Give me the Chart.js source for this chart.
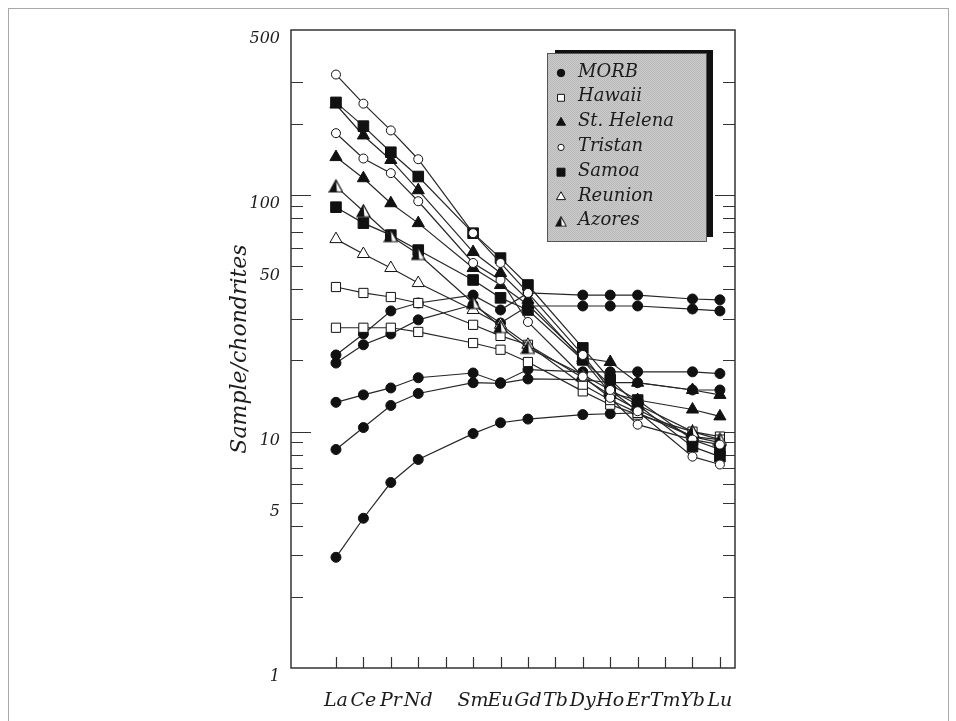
<!DOCTYPE html>
<html>
<head>
<meta charset="utf-8">
<script src="https://cdn.jsdelivr.net/npm/chart.js@4.4.1/dist/chart.umd.min.js"></script>
<style>
  html, body { margin: 0; padding: 0; background: #fff; }
  #wrap { position: relative; width: 956px; height: 721px; overflow: hidden; }
  #frame { position: absolute; left: 8px; top: 8px; width: 941px; height: 730px; border: 1px solid #a8a8a8; box-sizing: border-box; }
  canvas { position: absolute; left: 0; top: 0; }
</style>
</head>
<body>
<div id="wrap"><div id="frame"></div><canvas id="chart" width="956" height="721"></canvas></div>
<script>
// rare earth elements, Pm has no label and no data
const elements = ['La', 'Ce', 'Pr', 'Nd', 'Pm', 'Sm', 'Eu', 'Gd', 'Tb', 'Dy', 'Ho', 'Er', 'Tm', 'Yb', 'Lu'];
const xLabels = ['La', 'Ce', 'Pr', 'Nd', '', 'Sm', 'Eu', 'Gd', 'Tb', 'Dy', 'Ho', 'Er', 'Tm', 'Yb', 'Lu'];
const yTickLabels = [1, 5, 10, 50, 100, 500];
const yMinorTicks = [2, 3, 4, 5, 6, 7, 8, 9, 20, 30, 40, 50, 60, 70, 80, 90, 200, 300];
const yMajorTicks = [10, 100];

//            La    Ce    Pr    Nd   Pm    Sm    Eu    Gd   Tb    Dy    Ho    Er   Tm    Yb    Lu
const morb1 = [2.94, 4.3, 6.09, 7.62, null, 9.81, 10.9, 11.3, null, 11.8, 11.9, 12.0, null, null, null];
const morb2 = [8.4, 10.4, 12.9, 14.5, null, 16.1, 16.0, 16.7, null, 16.6, 16.1, 16.1, null, 15.0, 15.0];
const morb3 = [13.3, 14.3, 15.3, 16.9, null, 17.7, 16.1, 18.3, null, 17.9, 17.9, 17.9, null, 17.9, 17.6];
const morb4 = [21.1, 25.9, 32.4, 35.0, null, 37.8, 32.7, 38.6, null, 37.8, 37.8, 37.8, null, 36.4, 36.1];
const morb5 = [19.5, 23.3, 25.9, 29.7, null, 34.4, 28.8, 34.0, null, 34.0, 34.0, 34.0, null, 33.0, 32.4];
const hawaii1 = [40.9, 38.6, 37.1, 35.0, null, 28.3, 25.4, 23.3, null, 15.8, 13.6, 12.0, null, 9.53, 9.25];
const hawaii2 = [27.5, 27.5, 27.5, 26.4, null, 23.7, 22.2, 19.7, null, 14.8, 13.0, 11.8, null, 10.0, 9.53];
const stHelena1 = [242, 179, 141, 105, null, 57.5, 46.9, 36.1, null, 20.1, 15.8, 13.6, null, 12.4, 11.6];
const stHelena2 = [145, 118, 92.5, 76.2, null, 49.2, 41.7, 34.4, null, 20.5, 19.7, 16.1, null, 15.0, 14.3];
const tristan1 = [324, 244, 188, 142, null, 69.1, 51.7, 38.6, null, 21.1, 15.0, 12.2, null, 7.84, 7.26];
const tristan2 = [183, 143, 124, 94.3, null, 51.7, 43.8, 29.1, null, 17.1, 13.9, 10.7, null, 9.25, 8.81];
const samoa1 = [247, 196, 152, 120, null, 69.1, 54.2, 41.7, null, 22.6, 16.6, 13.0, null, 8.64, 7.84];
const samoa2 = [89.0, 76.2, 67.8, 58.6, null, 43.8, 36.8, 32.7, null, 20.1, 14.6, 13.6, null, 9.25, 8.4];
const reunion = [65.2, 56.4, 49.2, 42.5, null, 32.7, 28.3, 23.3, null, 16.9, 14.3, 12.4, null, 9.53, 8.98];
const azores = [109, 85.6, 67.1, 56.4, null, 35.0, 27.7, 22.6, null, 17.4, 15.0, 13.0, null, 10.0, 9.25];

const FONT = '"DejaVu Serif", serif';
const INK = '#1c1c1c';

// half filled triangle for Azores
function halfTriangle(size) {
  const c = document.createElement('canvas');
  c.width = size; c.height = size;
  const g = c.getContext('2d');
  const m = size / 2, top = 1, bot = size - 2, l = 1, r = size - 1;
  g.fillStyle = '#fff';
  g.beginPath(); g.moveTo(m, top); g.lineTo(r, bot); g.lineTo(l, bot); g.closePath(); g.fill();
  g.fillStyle = '#111';
  g.beginPath(); g.moveTo(m, top); g.lineTo(m + 1, bot); g.lineTo(l, bot); g.closePath(); g.fill();
  g.strokeStyle = '#111'; g.lineWidth = 1.2;
  g.beginPath(); g.moveTo(m, top); g.lineTo(r, bot); g.lineTo(l, bot); g.closePath(); g.stroke();
  return c;
}
const azoresMark = halfTriangle(15);

const styles = {
  MORB: { pointStyle: 'circle', radius: 5, fill: '#111' },
  Hawaii: { pointStyle: 'rect', radius: 6.5, fill: '#fff' },
  'St. Helena': { pointStyle: 'triangle', radius: 7, fill: '#111' },
  Tristan: { pointStyle: 'circle', radius: 4.5, fill: '#fff' },
  Samoa: { pointStyle: 'rect', radius: 7.5, fill: '#111' },
  Reunion: { pointStyle: 'triangle', radius: 7, fill: '#fff' },
  Azores: { pointStyle: azoresMark, radius: 7, fill: '#111' }
};

function series(name, values) {
  const s = styles[name];
  return {
    label: name,
    data: values.map((v, i) => ({ x: i, y: v })),
    spanGaps: true,
    borderColor: '#262626',
    borderWidth: 1.2,
    tension: 0,
    pointStyle: s.pointStyle,
    pointRadius: s.radius,
    pointBackgroundColor: s.fill,
    pointBorderColor: '#111',
    pointBorderWidth: 1
  };
}

const datasets = [
  series('Tristan', tristan1),
  series('Samoa', samoa1),
  series('St. Helena', stHelena1),
  series('Tristan', tristan2),
  series('St. Helena', stHelena2),
  series('Azores', azores),
  series('Samoa', samoa2),
  series('Reunion', reunion),
  series('Hawaii', hawaii1),
  series('Hawaii', hawaii2),
  series('MORB', morb4),
  series('MORB', morb5),
  series('MORB', morb3),
  series('MORB', morb2),
  series('MORB', morb1)
];

// border box and inward ticks
const frameTicks = {
  id: 'frameTicks',
  beforeDatasetsDraw(chart) {
    const { ctx, chartArea: a, scales: { x, y } } = chart;
    ctx.save();
    ctx.strokeStyle = '#333';
    ctx.lineWidth = 1.5;
    ctx.strokeRect(a.left, a.top, a.right - a.left, a.bottom - a.top);
    ctx.lineWidth = 1.2;
    ctx.beginPath();
    const tick = (v, len) => {
      const py = Math.round(y.getPixelForValue(v)) + 0.5;
      ctx.moveTo(a.left, py); ctx.lineTo(a.left + len, py);
      ctx.moveTo(a.right, py); ctx.lineTo(a.right - len, py);
    };
    yMinorTicks.forEach(v => tick(v, 12));
    yMajorTicks.forEach(v => tick(v, 20));
    elements.forEach((e, i) => {
      const px = Math.round(x.getPixelForValue(i)) + 0.5;
      ctx.moveTo(px, a.bottom); ctx.lineTo(px, a.bottom - 11);
    });
    ctx.stroke();
    ctx.restore();
  }
};

function legendMark(ctx, st, cx, cy, scale) {
  const r = st.radius * scale;
  ctx.fillStyle = st.fill;
  ctx.strokeStyle = '#111';
  ctx.lineWidth = 1;
  if (typeof st.pointStyle !== 'string') {
    ctx.drawImage(st.pointStyle, cx - 6, cy - 6, 12, 12);
    return;
  }
  ctx.beginPath();
  if (st.pointStyle === 'circle') ctx.arc(cx, cy, r, 0, Math.PI * 2);
  else if (st.pointStyle === 'rect') { const h = r * Math.SQRT1_2; ctx.rect(cx - h, cy - h, 2 * h, 2 * h); }
  else { ctx.moveTo(cx, cy - r); ctx.lineTo(cx + r * 0.866, cy + r * 0.5); ctx.lineTo(cx - r * 0.866, cy + r * 0.5); ctx.closePath(); }
  ctx.fill();
  ctx.stroke();
}

const boxLegend = {
  id: 'boxLegend',
  afterDraw(chart) {
    const ctx = chart.ctx;
    ctx.save();
    ctx.fillStyle = '#111';
    ctx.fillRect(555, 50, 158, 187);
    const pc = document.createElement('canvas');
    pc.width = 2; pc.height = 2;
    const pg = pc.getContext('2d');
    pg.fillStyle = '#cbcbcb'; pg.fillRect(0, 0, 2, 2);
    pg.fillStyle = '#b9b9b9'; pg.fillRect(0, 0, 1, 1); pg.fillRect(1, 1, 1, 1);
    ctx.fillStyle = ctx.createPattern(pc, 'repeat');
    ctx.fillRect(547, 53, 160, 189);
    ctx.strokeStyle = '#555';
    ctx.lineWidth = 1;
    ctx.strokeRect(547.5, 53.5, 159, 188);
    const names = Object.keys(styles);
    ctx.font = 'italic 18px ' + FONT;
    ctx.textBaseline = 'middle';
    names.forEach((n, i) => {
      const cy = 72 + i * 24.8;
      legendMark(ctx, styles[n], 561, cy + 1, n === 'Tristan' ? 0.7 : 0.75);
      ctx.fillStyle = INK;
      ctx.fillText(n, 578, cy);
    });
    ctx.restore();
  }
};

new Chart(document.getElementById('chart'), {
  type: 'line',
  data: { datasets },
  plugins: [frameTicks, boxLegend],
  options: {
    responsive: false,
    animation: false,
    devicePixelRatio: 1,
    layout: { padding: { left: 0, right: 221, top: 30, bottom: 0 } },
    plugins: { legend: { display: false }, tooltip: { enabled: false } },
    scales: {
      x: {
        type: 'linear',
        bounds: 'data',
        min: -1.64,
        max: 14.55,
        grid: { display: false },
        border: { display: false },
        afterBuildTicks: s => { s.ticks = elements.map((e, i) => ({ value: i })); },
        afterFit: s => { s.height = 53; },
        ticks: {
          autoSkip: false,
          maxRotation: 0,
          padding: 14,
          color: INK,
          font: { family: FONT, style: 'italic', size: 19 },
          callback: v => xLabels[v] ?? ''
        }
      },
      y: {
        type: 'logarithmic',
        bounds: 'data',
        min: 1,
        max: 500,
        grid: { display: false },
        border: { display: false },
        afterBuildTicks: s => { s.ticks = yTickLabels.map(v => ({ value: v })); },
        afterFit: s => { s.width = 291; },
        ticks: {
          autoSkip: false,
          padding: 3,
          labelOffset: 9,
          color: INK,
          font: { family: FONT, style: 'italic', size: 16 },
          callback: v => String(v)
        },
        title: {
          display: true,
          text: 'Sample/chondrites',
          color: INK,
          padding: { top: 227, bottom: 0 },
          font: { family: FONT, style: 'italic', size: 22 }
        }
      }
    }
  }
});
</script>
</body>
</html>
